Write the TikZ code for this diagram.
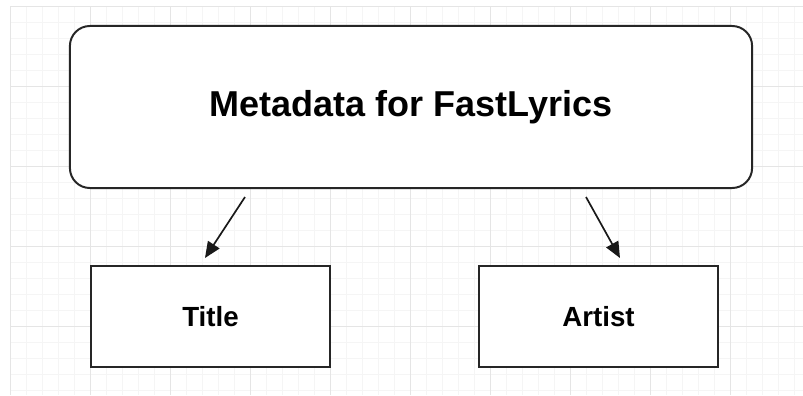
\documentclass[tikz,border=0pt]{standalone}
\usepackage{fontspec}
\setmainfont{Liberation Sans}
\usetikzlibrary{arrows.meta}

\tikzset{
  minorline/.style={color=black!4, line width=0.5pt},
  majorline/.style={color=black!10, line width=0.7pt},
  bigbox/.style={draw=black!85, line width=1.4pt, rounded corners=0.5cm, fill=white,
    minimum width=17.05cm, minimum height=4.05cm,
    font=\fontsize{25.6}{30}\selectfont\bfseries},
  fieldbox/.style={draw=black!85, line width=1.4pt, fill=white,
    minimum width=5.98cm, minimum height=2.52cm,
    font=\fontsize{19.7}{24}\selectfont\bfseries},
  link/.style={draw=black!90, line width=1.2pt,
    -{Triangle[length=0.4cm, width=0.34cm]}}
}

\begin{document}
\begin{tikzpicture}[x=0.025cm, y=-0.025cm]
\useasboundingbox (0,0) rectangle (803,395);
\fill[white] (0,0) rectangle (803,395);

% background grid
\foreach \gx in {10,26,...,803} \draw[minorline] (\gx,6) -- (\gx,395);
\foreach \gy in {6,22,...,395} \draw[minorline] (10,\gy) -- (803,\gy);
\foreach \gx in {10,90,...,803} \draw[majorline] (\gx,6) -- (\gx,395);
\foreach \gy in {6,86,...,395} \draw[majorline] (10,\gy) -- (803,\gy);

% boxes
\node[bigbox] (meta) at (411,107) {Metadata for FastLyrics};
\node[fieldbox] (title) at (210.5,316.5) {Title};
\node[fieldbox] (artist) at (598.5,316.5) {Artist};

% arrow ends
\coordinate (titlefrom) at (245,197);
\coordinate (titleto) at (205,258);
\coordinate (artistfrom) at (586,197);
\coordinate (artistto) at (620,258);

\draw[link] (titlefrom) -- (titleto);
\draw[link] (artistfrom) -- (artistto);
\end{tikzpicture}
\end{document}
